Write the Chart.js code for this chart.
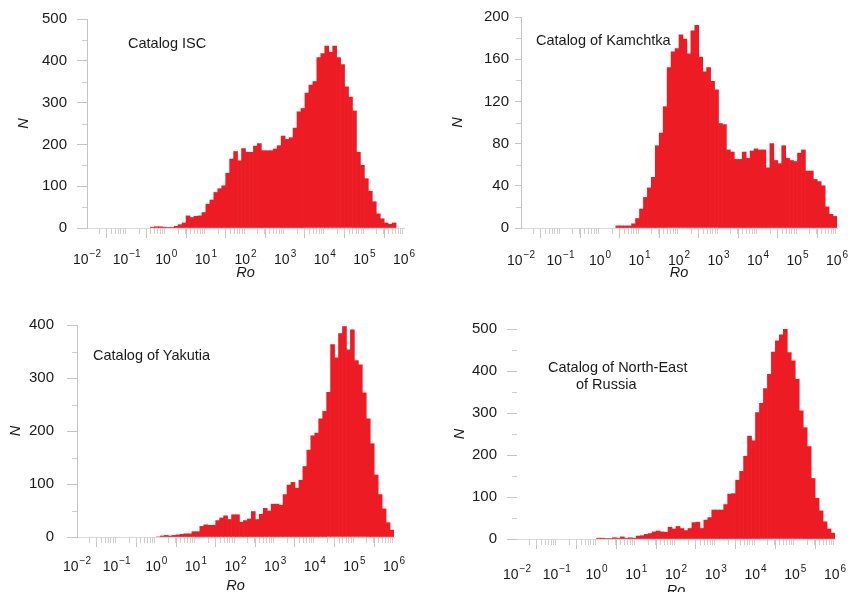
<!DOCTYPE html>
<html>
<head>
<meta charset="utf-8">
<script src="https://cdn.jsdelivr.net/npm/chart.js@4.4.0/dist/chart.umd.min.js"></script>
<style>
  html, body { margin: 0; padding: 0; background: #fff; overflow: hidden; }
  body { width: 861px; height: 592px; position: relative; font-family: 'Liberation Sans', Arial, sans-serif; }
  .panel { position: absolute; }
  .label { position: absolute; font-size: 14.5px; color: #1a1a1a; line-height: 1; white-space: nowrap; }
</style>
</head>
<body>
<div class="panel" style="left:0;top:0"><canvas id="isc" width="430" height="290"></canvas></div>
<div class="panel" style="left:430px;top:0"><canvas id="kam" width="431" height="290"></canvas></div>
<div class="panel" style="left:0;top:296px"><canvas id="yak" width="430" height="310"></canvas></div>
<div class="panel" style="left:430px;top:296px"><canvas id="ner" width="431" height="310"></canvas></div>

<div class="label" style="left:128px;top:36px">Catalog ISC</div>
<div class="label" style="left:536px;top:33px">Catalog of Kamchtka</div>
<div class="label" style="left:93px;top:348px">Catalog of Yakutia</div>
<div class="label" style="left:548px;top:360px">Catalog of North-East</div>
<div class="label" style="left:576px;top:377px">of Russia</div>

<script>
// histogram counts, bins are 0.1 wide in log10(Ro)
const iscStart = -0.4;
const iscCounts = [2, 3, 3, 2, 1, 1, 4, 8, 12, 29,
    25, 28, 29, 37, 57, 67, 85, 94, 101, 131,
    165, 183, 161, 190, 181, 181, 196, 202, 185, 185,
    185, 189, 197, 220, 212, 216, 239, 278, 286, 323,
    342, 350, 408, 417, 435, 420, 435, 408, 391, 338,
    313, 280, 181, 150, 118, 88, 63, 34, 22, 12,
    9, 12];

const kamStart = 0.4;
const kamCounts = [2, 2, 2, 2, 4, 9, 18, 29, 38, 48,
    78, 90, 115, 152, 167, 170, 183, 179, 165, 187,
    192, 162, 148, 152, 139, 131, 99, 98, 74, 72,
    65, 65, 72, 66, 73, 75, 74, 74, 57, 80,
    64, 61, 78, 66, 64, 63, 71, 74, 54, 54,
    46, 44, 40, 20, 13, 11];

const yakStart = 0.0;
const yakCounts = [0, 2, 3, 2, 3, 4, 5, 6, 6, 10,
    10, 20, 23, 22, 22, 31, 36, 40, 33, 42,
    42, 28, 31, 34, 48, 33, 43, 54, 49, 62,
    62, 60, 80, 98, 103, 92, 107, 133, 164, 191,
    196, 223, 237, 273, 363, 338, 384, 397, 353, 391,
    333, 325, 272, 223, 176, 117, 80, 53, 27, 13];

const nerStart = 0.0;
const nerCounts = [2, 2, 1, 1, 3, 2, 5, 2, 3, 2,
    7, 8, 11, 13, 17, 19, 17, 16, 28, 24,
    30, 25, 20, 25, 39, 40, 25, 45, 51, 69,
    69, 69, 82, 107, 108, 140, 161, 197, 245, 234,
    301, 323, 358, 392, 445, 472, 486, 499, 444, 424,
    380, 305, 265, 220, 144, 97, 67, 41, 24, 14];

// x ticks are powers of ten: 10 with these exponents
const xTicks = [-2, -1, 0, 1, 2, 3, 4, 5, 6];
const xTickExps = ['−2', '−1', '0', '1', '2', '3', '4', '5', '6'];

const RED = '#ed1c24';
const AXIS = '#c4c4c4';
const TEXT = '#1a1a1a';
const FONT = "'Liberation Sans', Arial, sans-serif";

// small log ticks under the x axis, half-step ticks on the y axis,
// and the 10^n labels drawn with a raised exponent
const logAxis = {
    id: 'logAxis',
    afterDraw(chart, args, opts) {
        const ctx = chart.ctx;
        const x = chart.scales.x;
        const y = chart.scales.y;
        ctx.save();
        ctx.strokeStyle = '#cfcfcf';
        ctx.lineWidth = 1;
        ctx.beginPath();
        for (let n = -2; n < 6; n++) {
            for (let k = 2; k <= 9; k++) {
                const px = Math.round(x.getPixelForValue(n + Math.log10(k))) + 0.5;
                ctx.moveTo(px, y.bottom);
                ctx.lineTo(px, y.bottom + 6);
            }
        }
        const step = y.options.ticks.stepSize;
        for (let v = step / 2; v < y.max; v += step) {
            const py = Math.round(y.getPixelForValue(v)) + 0.5;
            ctx.moveTo(x.left - 5, py);
            ctx.lineTo(x.left, py);
        }
        ctx.stroke();

        ctx.fillStyle = TEXT;
        ctx.textBaseline = 'alphabetic';
        ctx.textAlign = 'left';
        const base = y.bottom + opts.labelDy;
        xTicks.forEach((v, i) => {
            const px = x.getPixelForValue(v);
            ctx.font = '14px ' + FONT;
            const w1 = ctx.measureText('10').width;
            ctx.font = '10px ' + FONT;
            const w2 = ctx.measureText(xTickExps[i]).width;
            const left = px - (w1 + 1 + w2) / 2;
            ctx.font = '14px ' + FONT;
            ctx.fillText('10', left, base);
            ctx.font = '10px ' + FONT;
            ctx.fillText(xTickExps[i], left + w1 + 1, base - 7);
        });
        ctx.restore();
    }
};

function makeChart(id, start, counts, cfg) {
    const data = counts.map((n, i) => ({ x: start + 0.1 * i + 0.05, y: n }));
    return new Chart(document.getElementById(id), {
        type: 'bar',
        data: {
            datasets: [{
                data: data,
                backgroundColor: RED,
                borderWidth: 0,
                barPercentage: 1,
                categoryPercentage: 1
            }]
        },
        options: {
            responsive: false,
            animation: false,
            devicePixelRatio: 1,
            layout: { padding: { left: 0, right: cfg.padR, top: cfg.padT, bottom: 0 } },
            plugins: {
                legend: { display: false },
                tooltip: { enabled: false },
                logAxis: { labelDy: cfg.labelDy }
            },
            scales: {
                x: {
                    type: 'linear',
                    min: -2,
                    max: 6,
                    offset: false,
                    afterBuildTicks: s => { s.ticks = xTicks.map(v => ({ value: v })); },
                    afterFit: s => { s.height = cfg.xH; },
                    grid: { drawOnChartArea: false, drawTicks: true, tickLength: 10, tickColor: AXIS },
                    border: { display: true, color: '#dadada' },
                    ticks: { display: false },
                    title: {
                        display: true,
                        text: 'Ro',
                        color: TEXT,
                        font: { family: FONT, size: 14.5, style: 'italic' },
                        padding: { top: 0, bottom: cfg.roPad }
                    }
                },
                y: {
                    min: 0,
                    max: cfg.yMax,
                    afterFit: s => { s.width = cfg.yW; },
                    grid: { drawOnChartArea: false, drawTicks: true, tickLength: cfg.yTick, tickColor: AXIS },
                    border: { display: cfg.yLine, color: AXIS },
                    ticks: {
                        stepSize: cfg.yStep,
                        color: TEXT,
                        padding: cfg.yPad,
                        font: { family: FONT, size: 15 }
                    },
                    title: {
                        display: true,
                        text: 'N',
                        color: TEXT,
                        font: { family: FONT, size: 14.5, style: 'italic' },
                        padding: { top: cfg.nPad, bottom: 0 }
                    }
                }
            }
        },
        plugins: [logAxis]
    });
}

makeChart('isc', iscStart, iscCounts,
    { yMax: 500, yStep: 100, yW: 87, xH: 62, padR: 26, padT: 17, labelDy: 36, yPad: 10, yTick: 10, nPad: 15, roPad: 8, yLine: true });
makeChart('kam', kamStart, kamCounts,
    { yMax: 200, yStep: 40, yW: 91, xH: 62, padR: 24, padT: 17, labelDy: 37, yPad: 6, yTick: 6, nPad: 19, roPad: 8, yLine: true });
makeChart('yak', yakStart, yakCounts,
    { yMax: 400, yStep: 100, yW: 77, xH: 69, padR: 36, padT: 29, labelDy: 34, yPad: 13, yTick: 10, nPad: 7, roPad: 11, yLine: true });
makeChart('ner', nerStart, nerCounts,
    { yMax: 500, yStep: 100, yW: 87, xH: 67, padR: 26, padT: 33, labelDy: 40, yPad: 10, yTick: 10, nPad: 21, roPad: 6, yLine: false });
</script>
</body>
</html>
